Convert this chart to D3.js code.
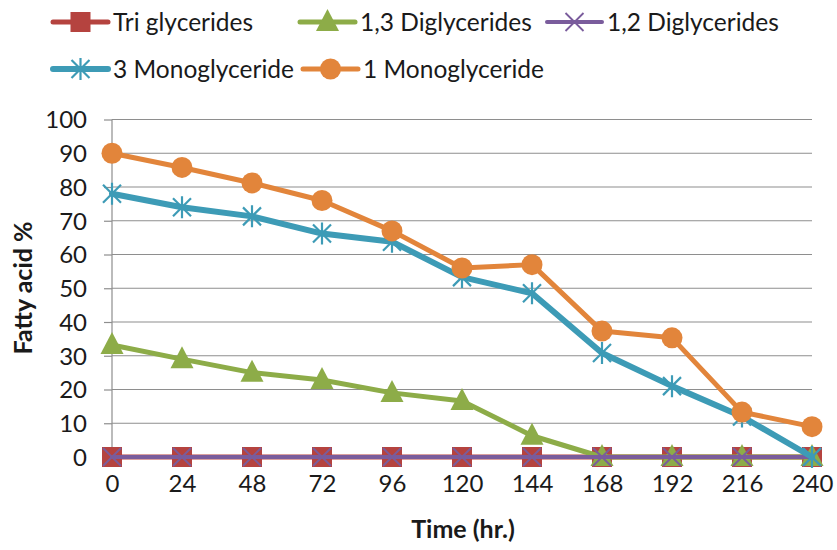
<!DOCTYPE html>
<html>
<head>
<meta charset="utf-8">
<script src="https://cdn.jsdelivr.net/npm/d3@7"></script>
<style>
  html, body { margin: 0; padding: 0; background: #fff; }
  svg { display: block; font-family: Lato, "Open Sans", sans-serif; }
</style>
</head>
<body>
<svg id="chart" width="837" height="550"></svg>
<script>
// Time points (hours)
const hours = [0, 24, 48, 72, 96, 120, 144, 168, 192, 216, 240];
const yTicks = [0, 10, 20, 30, 40, 50, 60, 70, 80, 90, 100];

// Fatty acid % per glyceride class
const triGlycerides   = [0, 0, 0, 0, 0, 0, 0, 0, 0, 0, 0];
const diGlycerides13  = [33.2, 29, 25, 22.8, 19, 16.6, 6.3, 0, 0, 0, 0];
const diGlycerides12  = [0, 0, 0, 0, 0, 0, 0, 0, 0, 0, 0];
const monoGlyceride3  = [78, 74, 71.3, 66.2, 63.8, 53.3, 48.5, 30.8, 21, 12, 0];
const monoGlyceride1  = [90, 85.8, 81.2, 76, 67, 56, 57, 37.3, 35.3, 13.3, 9];

const seriesNames = ["Tri glycerides", "1,3 Diglycerides", "1,2 Diglycerides", "3 Monoglyceride", "1 Monoglyceride"];
const seriesValues = [triGlycerides, diGlycerides13, diGlycerides12, monoGlyceride3, monoGlyceride1];

const styles = [
  { color: "#B5433F", width: 5, marker: "square" },
  { color: "#8DAC48", width: 5, marker: "triangle" },
  { color: "#7A5C9C", width: 4, marker: "x" },
  { color: "#3D9BB6", width: 6, marker: "asterisk" },
  { color: "#E2853B", width: 5, marker: "circle" }
];

const svg = d3.select("#chart");
const textColor = "#1a1a1a";
const gridColor = "#8e8e8e";

const x = d3.scaleLinear().domain([0, 240]).range([112, 812]);
const y = d3.scaleLinear().domain([0, 100]).range([457, 119.5]);

// Horizontal gridlines
svg.append("g")
  .selectAll("line")
  .data(yTicks)
  .join("line")
  .attr("x1", x(0)).attr("x2", x(240))
  .attr("y1", d => y(d)).attr("y2", d => y(d))
  .attr("stroke", gridColor).attr("stroke-width", 1.2);

// Y axis with outward tick marks
const yAxis = svg.append("g")
  .attr("transform", `translate(${x(0)},0)`)
  .call(d3.axisLeft(y).tickValues(yTicks).tickSize(8).tickPadding(17).tickFormat(d3.format("d")));
yAxis.select(".domain").attr("stroke", gridColor).attr("stroke-width", 1.2)
  .attr("d", `M0,${y(100)}V${y(0) + 6}`);
yAxis.selectAll(".tick line").attr("stroke", gridColor).attr("stroke-width", 1.2);
yAxis.selectAll(".tick text")
  .attr("fill", textColor).style("font-size", "24px").style("font-family", "Lato, sans-serif")
  .attr("dy", "0.35em");

// X axis line and labels
const xAxis = svg.append("g")
  .attr("transform", `translate(0,${y(0)})`)
  .call(d3.axisBottom(x).tickValues(hours).tickSize(0).tickPadding(27));
xAxis.select(".domain").attr("stroke", gridColor).attr("stroke-width", 1.2);
xAxis.selectAll(".tick text")
  .attr("fill", textColor).style("font-size", "24px").style("font-family", "Lato, sans-serif")
  .attr("dy", "0.35em");

// Axis titles
svg.append("text")
  .attr("x", 463).attr("y", 538)
  .attr("text-anchor", "middle")
  .attr("fill", textColor)
  .style("font-size", "25px").style("font-weight", "bold")
  .text("Time (hr.)");

svg.append("text")
  .attr("transform", "translate(32,288) rotate(-90)")
  .attr("text-anchor", "middle")
  .attr("fill", textColor)
  .style("font-size", "25px").style("font-weight", "bold")
  .text("Fatty acid %");

// Marker drawing
function drawMarker(g, type, color, cx, cy) {
  if (type === "square") {
    g.append("rect").attr("x", cx - 10).attr("y", cy - 10)
      .attr("width", 20).attr("height", 20).attr("fill", color);
  } else if (type === "triangle") {
    g.append("path")
      .attr("d", `M${cx},${cy - 13}L${cx + 11.5},${cy + 9}L${cx - 11.5},${cy + 9}Z`)
      .attr("fill", color);
  } else if (type === "x") {
    g.append("path")
      .attr("d", `M${cx - 9},${cy - 9}L${cx + 9},${cy + 9}M${cx + 9},${cy - 9}L${cx - 9},${cy + 9}`)
      .attr("stroke", color).attr("stroke-width", 1.8).attr("fill", "none");
  } else if (type === "asterisk") {
    g.append("path")
      .attr("d", `M${cx - 9},${cy - 9}L${cx + 9},${cy + 9}M${cx + 9},${cy - 9}L${cx - 9},${cy + 9}M${cx},${cy - 11}L${cx},${cy + 11}`)
      .attr("stroke", color).attr("stroke-width", 2.2).attr("fill", "none");
  } else if (type === "circle") {
    g.append("circle").attr("cx", cx).attr("cy", cy).attr("r", 10.5).attr("fill", color);
  }
}

// Series lines and markers, drawn in legend order
const line = d3.line().x((d, i) => x(hours[i])).y(d => y(d));
seriesValues.forEach((vals, si) => {
  const st = styles[si];
  const g = svg.append("g");
  g.append("path")
    .datum(vals)
    .attr("d", line)
    .attr("fill", "none")
    .attr("stroke", st.color)
    .attr("stroke-width", st.width)
    .attr("stroke-linejoin", "round")
    .attr("stroke-linecap", "round");
  vals.forEach((v, i) => drawMarker(g, st.marker, st.color, x(hours[i]), y(v)));
});

// Legend
const legendPos = [
  { lx: 53, ly: 22 },
  { lx: 300, ly: 22 },
  { lx: 547, ly: 22 },
  { lx: 53, ly: 69 },
  { lx: 303, ly: 69 }
];
seriesNames.forEach((name, si) => {
  const st = styles[si];
  const p = legendPos[si];
  const g = svg.append("g");
  g.append("line")
    .attr("x1", p.lx).attr("x2", p.lx + 55)
    .attr("y1", p.ly).attr("y2", p.ly)
    .attr("stroke", st.color).attr("stroke-width", st.width)
    .attr("stroke-linecap", "round");
  drawMarker(g, st.marker, st.color, p.lx + 27.5, p.ly);
  g.append("text")
    .attr("x", p.lx + 60).attr("y", p.ly)
    .attr("dy", "0.35em")
    .attr("fill", textColor)
    .style("font-size", "24.5px")
    .text(name);
});
</script>
</body>
</html>
